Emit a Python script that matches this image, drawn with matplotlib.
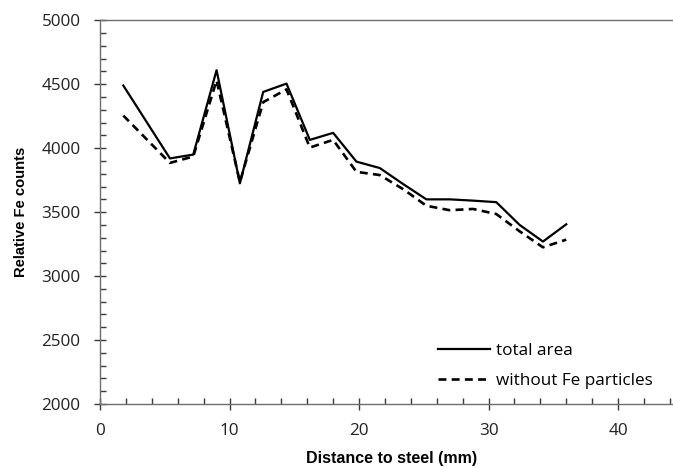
"""Relative Fe counts vs distance to steel, total area vs. without Fe particles."""

import matplotlib
matplotlib.use("Agg")
import matplotlib.pyplot as plt
from matplotlib.ticker import MultipleLocator

# Distance to steel (mm)
distance = [1.8, 5.4, 7.2, 9.0, 10.8, 12.6, 14.4, 16.2, 18.0, 19.8,
            21.6, 23.4, 25.2, 27.0, 28.8, 30.6, 32.4, 34.2, 36.0]
# Relative Fe counts
total_area = [4490, 3920, 3950, 4610, 3725, 4440, 4505, 4065, 4120, 3895,
              3845, 3720, 3600, 3600, 3590, 3578, 3400, 3270, 3405]
without_fe = [4255, 3885, 3935, 4530, 3735, 4360, 4460, 4005, 4065, 3815,
              3790, 3680, 3550, 3515, 3525, 3485, 3350, 3225, 3285]

fig = plt.figure(figsize=(6.73, 4.68), dpi=100)
# axes runs out past the right edge of the figure (as in the source image)
ax = fig.add_axes([0.1486, 0.1368, 0.866, 0.8198])

ax.plot(distance, total_area, color="black", lw=1.6, label="total area")
ax.plot(distance, without_fe, color="black", lw=1.9, dashes=(3, 2),
        label="without Fe particles")

ax.set_xlim(0, 45)
ax.set_ylim(2000, 5000)
ax.xaxis.set_major_locator(MultipleLocator(10))
ax.xaxis.set_minor_locator(MultipleLocator(2))
ax.yaxis.set_major_locator(MultipleLocator(500))
ax.yaxis.set_minor_locator(MultipleLocator(100))

spine_col = "#6e6e6e"
for side in ("left", "bottom", "top"):
    ax.spines[side].set_color(spine_col)
    ax.spines[side].set_linewidth(1.0)
ax.spines["right"].set_visible(False)

ax.tick_params(which="major", direction="inout", length=8, width=1.0,
               color="#3a3a3a", labelsize=12.3, labelcolor="#222222")
ax.tick_params(which="minor", direction="in", length=4, width=1.0,
               color="#3a3a3a")
ax.tick_params(axis="y", which="major", pad=10)
ax.tick_params(axis="x", which="major", pad=10)
for lab in ax.get_xticklabels() + ax.get_yticklabels():
    lab.set_family("Open Sans")

ax.set_xlabel("Distance to steel (mm)", fontsize=11.5, fontweight="bold",
              family="Liberation Sans", labelpad=8)
ax.set_ylabel("Relative Fe counts", fontsize=10.6, fontweight="bold",
              family="Liberation Sans", labelpad=10)

ax.legend(loc="upper left", bbox_to_anchor=(438 / 673, 1 - 343 / 468),
          bbox_transform=fig.transFigure, frameon=False, borderpad=0,
          borderaxespad=0, handlelength=3.05, handletextpad=0.35,
          labelspacing=0.8, prop={"family": "Open Sans", "size": 12.3})

fig.savefig("out.png", dpi=100)
